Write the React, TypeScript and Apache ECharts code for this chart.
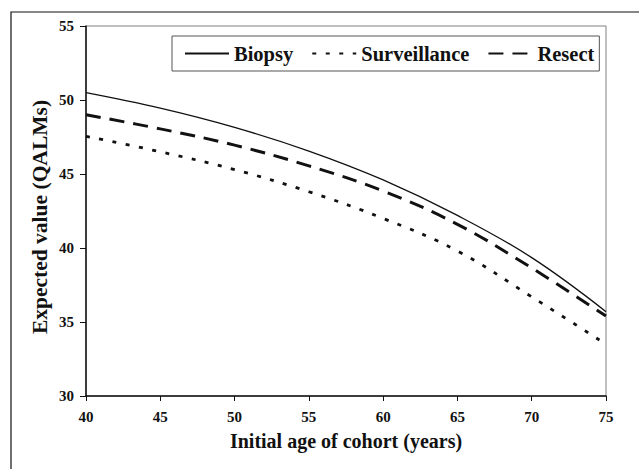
import React, { useEffect, useRef } from "react";
import * as echarts from "echarts";

const ages = [40, 45, 50, 55, 60, 65, 70, 75];
const biopsy = [50.5, 49.45, 48.15, 46.55, 44.6, 42.2, 39.35, 35.7];
const surveillance = [47.55, 46.5, 45.3, 43.8, 42.0, 39.8, 36.7, 33.5];
const resect = [49.0, 48.05, 46.95, 45.55, 43.85, 41.6, 38.65, 35.4];
const seriesNames = ["Biopsy", "Surveillance", "Resect"];
const xTitle = "Initial age of cohort (years)";
const yTitle = "Expected value (QALMs)";

const FONT = '"Liberation Serif", "Times New Roman", serif';

export default function App() {
  const ref = useRef<HTMLDivElement>(null);
  useEffect(() => {
    if (!ref.current) return;
    const chart = echarts.init(ref.current, undefined, { renderer: "svg" });
    const pairs = (vals: number[]) => ages.map((a, i) => [a, vals[i]]);
    chart.setOption({
      animation: false,
      backgroundColor: "#fff",
      textStyle: { fontFamily: FONT },
      grid: {
        left: 86,
        right: 33,
        top: 26,
        bottom: 73,
        show: true,
        borderColor: "#808080",
        borderWidth: 1,
        outerBoundsMode: "none",
      },
      legend: {
        left: 172,
        top: 36,
        orient: "horizontal",
        itemWidth: 44,
        itemHeight: 14,
        itemGap: 18,
        padding: [7, 5, 7, 12],
        borderColor: "#555",
        borderWidth: 1,
        backgroundColor: "#fff",
        data: seriesNames,
        itemStyle: { opacity: 0 },
        textStyle: { fontFamily: FONT, fontSize: 20.5, fontWeight: "bold", color: "#111" },
      },
      xAxis: {
        type: "value",
        min: 40,
        max: 75,
        interval: 5,
        axisLine: { lineStyle: { color: "#111", width: 1.5 } },
        axisTick: { show: true, length: 5, inside: false, lineStyle: { color: "#111", width: 1 } },
        axisLabel: { fontFamily: FONT, fontSize: 15, fontWeight: "bold", color: "#111", margin: 13 },
        splitLine: { show: false },
      },
      yAxis: {
        type: "value",
        min: 30,
        max: 55,
        interval: 5,
        axisLine: { show: true, lineStyle: { color: "#111", width: 1.5 } },
        axisTick: { show: true, length: 6, inside: false, lineStyle: { color: "#111", width: 1 } },
        axisLabel: { fontFamily: FONT, fontSize: 15, fontWeight: "bold", color: "#111", margin: 12 },
        splitLine: { show: false },
      },
      graphic: [
        {
          type: "rect",
          z: -10,
          shape: { x: 11, y: 12, width: 700, height: 500 },
          style: { fill: "none", stroke: "#111", lineWidth: 1.2 },
        },
        {
          type: "text",
          x: 346,
          y: 441,
          style: {
            text: xTitle,
            fontFamily: FONT,
            fontSize: 20,
            fontWeight: "bold",
            fill: "#111",
            align: "center",
            verticalAlign: "middle",
          },
        },
        {
          type: "text",
          x: 40,
          y: 217,
          rotation: Math.PI / 2,
          style: {
            text: yTitle,
            fontFamily: FONT,
            fontSize: 21.5,
            fontWeight: "bold",
            fill: "#111",
            align: "center",
            verticalAlign: "middle",
          },
        },
      ],
      series: [
        {
          name: seriesNames[0],
          type: "line",
          data: pairs(biopsy),
          smooth: 0.4,
          symbol: "none",
          lineStyle: { color: "#111", width: 1.3, type: "solid" },
          itemStyle: { color: "#111" },
        },
        {
          name: seriesNames[1],
          type: "line",
          data: pairs(surveillance),
          smooth: 0.4,
          symbol: "none",
          lineStyle: { color: "#111", width: 2.8, type: [4, 9.5] },
          itemStyle: { color: "#111" },
        },
        {
          name: seriesNames[2],
          type: "line",
          data: pairs(resect),
          smooth: 0.4,
          symbol: "none",
          lineStyle: { color: "#111", width: 3, type: [15, 9] },
          itemStyle: { color: "#111" },
        },
      ],
    });
    return () => chart.dispose();
  }, []);
  return (
    <div
      ref={ref}
      style={{ position: "fixed", left: 0, top: 0, width: 639, height: 469 }}
    />
  );
}
